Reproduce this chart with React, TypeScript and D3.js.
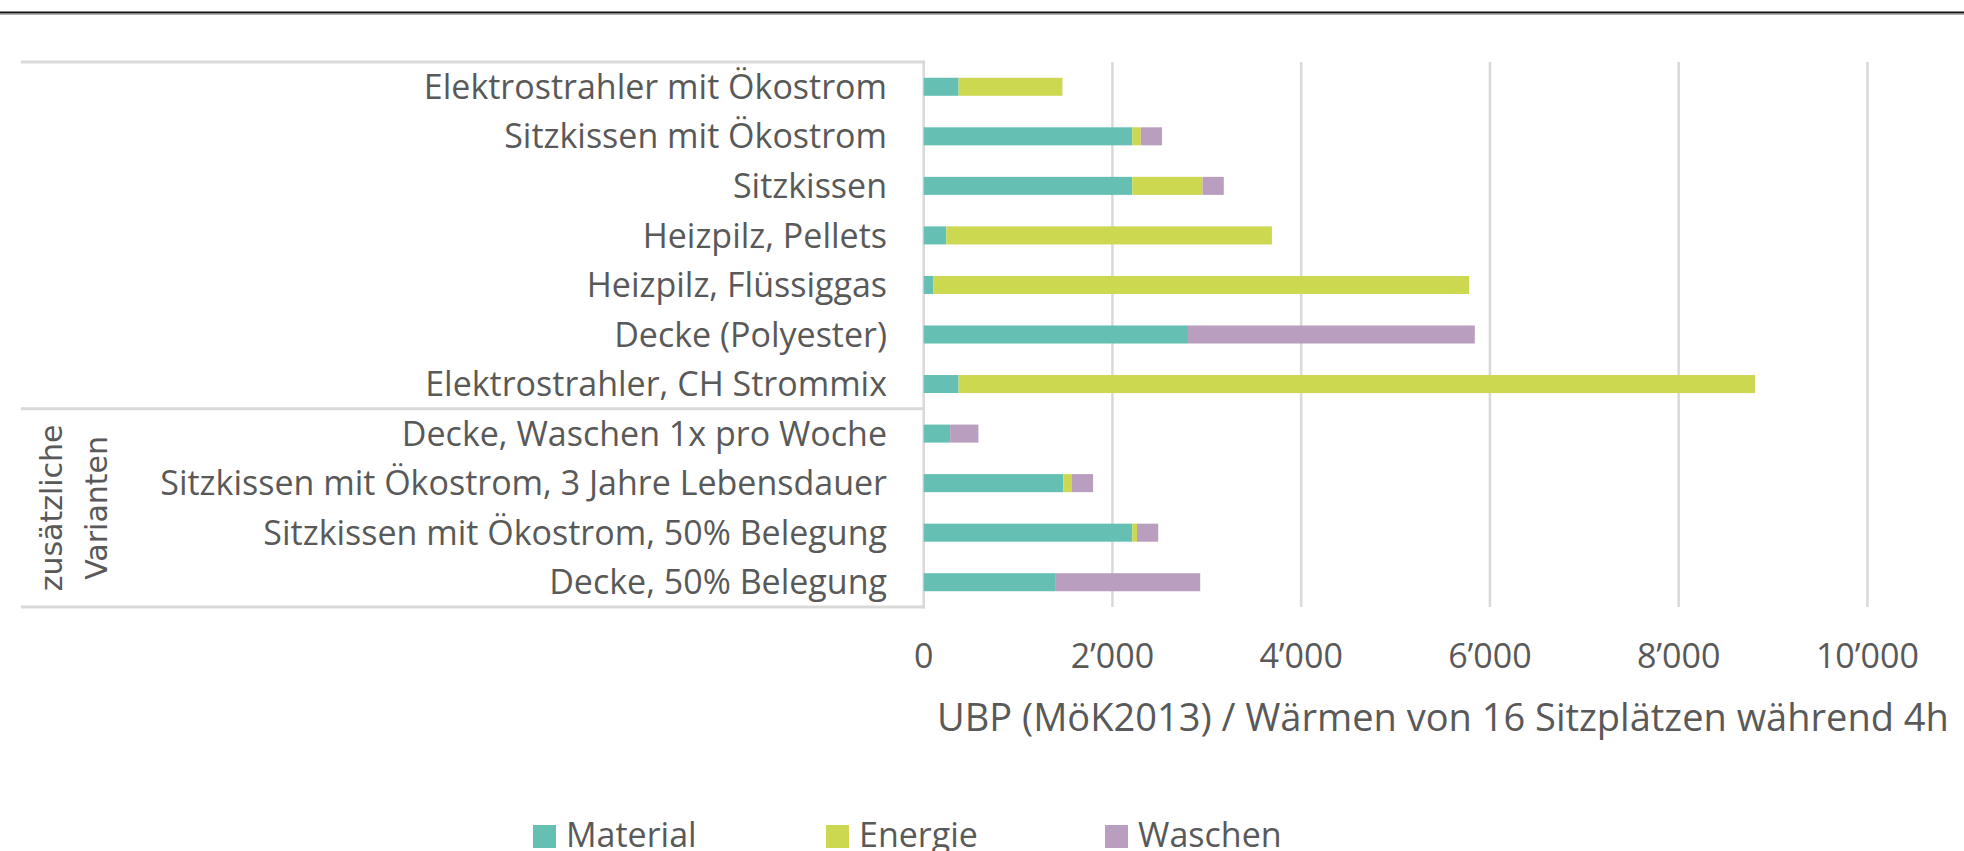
import React from "react";
import * as d3 from "d3";

const categories = [
  "Elektrostrahler mit Ökostrom",
  "Sitzkissen mit Ökostrom",
  "Sitzkissen",
  "Heizpilz, Pellets",
  "Heizpilz, Flüssiggas",
  "Decke (Polyester)",
  "Elektrostrahler, CH Strommix",
  "Decke, Waschen 1x pro Woche",
  "Sitzkissen mit Ökostrom, 3 Jahre Lebensdauer",
  "Sitzkissen mit Ökostrom, 50% Belegung",
  "Decke, 50% Belegung",
];
const material = [370, 2210, 2210, 240, 100, 2800, 370, 280, 1480, 2210, 1400];
const energie = [1100, 90, 745, 3450, 5680, 0, 8440, 0, 90, 50, 0];
const waschen = [0, 225, 225, 0, 0, 3040, 0, 300, 225, 225, 1530];
const seriesNames = ["Material", "Energie", "Waschen"];
const seriesColors = ["#66bfb3", "#cdd851", "#ba9ebf"];
const xTicks = [0, 2000, 4000, 6000, 8000, 10000];
const groupBoundaries = [0, 7, 11];
const groupLabel = ["zusätzliche", "Varianten"];
const axisTitle = "UBP (MöK2013) / Wärmen von 16 Sitzplätzen während 4h";

const W = 1964;
const H = 851;
const FONT = "'Open Sans', sans-serif";
const TEXT = "#595959";
const GRID = "#d9d9d9";

export default function App() {
  const x = d3.scaleLinear().domain([0, 10000]).range([923.7, 1867.4]);
  const y = d3
    .scaleBand<string>()
    .domain(categories)
    .range([62, 607])
    .paddingInner(0.636)
    .paddingOuter(0.318);
  const step = y.step();
  const yTop = 62;

  const rows = categories.map((c, i) => ({
    cat: c,
    Material: material[i],
    Energie: energie[i],
    Waschen: waschen[i],
  }));
  const stacked = d3.stack<any>().keys(seriesNames)(rows);
  const fmt = (v: number) => d3.format(",")(v).replace(/,/g, "\u2019");

  const boundaryY = (k: number) => yTop + k * step;
  const lowerMid = (boundaryY(groupBoundaries[1]) + boundaryY(groupBoundaries[2])) / 2;

  const legendX = [533, 826, 1105];

  return (
    <svg
      width={W}
      height={H}
      style={{ position: "absolute", left: 0, top: 0, background: "#fff" }}
      fontFamily={FONT}
    >
      <rect x={0} y={0} width={W} height={H} fill="#fff" />
      {/* top rule */}
      <line x1={0} x2={W} y1={12.5} y2={12.5} stroke="#111" strokeWidth={2.2} />
      <line x1={0} x2={W} y1={14.2} y2={14.2} stroke="#888" strokeWidth={1} />

      {/* gridlines */}
      {xTicks.slice(1).map((t) => (
        <line
          key={"g" + t}
          x1={x(t)}
          x2={x(t)}
          y1={yTop}
          y2={boundaryY(11)}
          stroke={GRID}
          strokeWidth={2.5}
        />
      ))}

      {/* category box lines */}
      {groupBoundaries.map((k) => (
        <line
          key={"b" + k}
          x1={21}
          x2={x(0) + 1}
          y1={boundaryY(k)}
          y2={boundaryY(k)}
          stroke={GRID}
          strokeWidth={3}
        />
      ))}
      <line
        x1={x(0)}
        x2={x(0)}
        y1={yTop - 1.5}
        y2={boundaryY(11) + 1.5}
        stroke={GRID}
        strokeWidth={2.5}
      />

      {/* bars */}
      {stacked.map((s, si) =>
        s.map((d, i) =>
          d[1] - d[0] > 0 ? (
            <rect
              key={si + "-" + i}
              x={x(d[0])}
              y={y(categories[i])}
              width={x(d[1]) - x(d[0])}
              height={y.bandwidth()}
              fill={seriesColors[si]}
            />
          ) : null
        )
      )}

      {/* category labels */}
      {categories.map((c) => (
        <text
          key={c}
          x={887}
          y={(y(c) as number) + y.bandwidth() / 2}
          dy="0.357em"
          textAnchor="end"
          fontSize={34}
          fill={TEXT}
        >
          {c}
        </text>
      ))}

      {/* group label */}
      {groupLabel.map((g, i) => (
        <text
          key={g}
          transform={`translate(${62 + i * 45},${lowerMid}) rotate(-90)`}
          textAnchor="middle"
          fontSize={30}
          fontFamily="'DejaVu Sans', sans-serif"
          fill={TEXT}
        >
          {g}
        </text>
      ))}

      {/* tick labels */}
      {xTicks.map((t) => (
        <text
          key={"t" + t}
          x={x(t)}
          y={668}
          textAnchor="middle"
          fontSize={34}
          fill={TEXT}
        >
          {fmt(t)}
        </text>
      ))}

      {/* axis title */}
      <text x={937} y={731} fontSize={38} fill={TEXT}>
        {axisTitle}
      </text>

      {/* legend */}
      {seriesNames.map((n, i) => (
        <g key={n}>
          <rect x={legendX[i]} y={825} width={23} height={23} fill={seriesColors[i]} />
          <text x={legendX[i] + 33} y={847} fontSize={34} fill={TEXT}>
            {n}
          </text>
        </g>
      ))}
    </svg>
  );
}
